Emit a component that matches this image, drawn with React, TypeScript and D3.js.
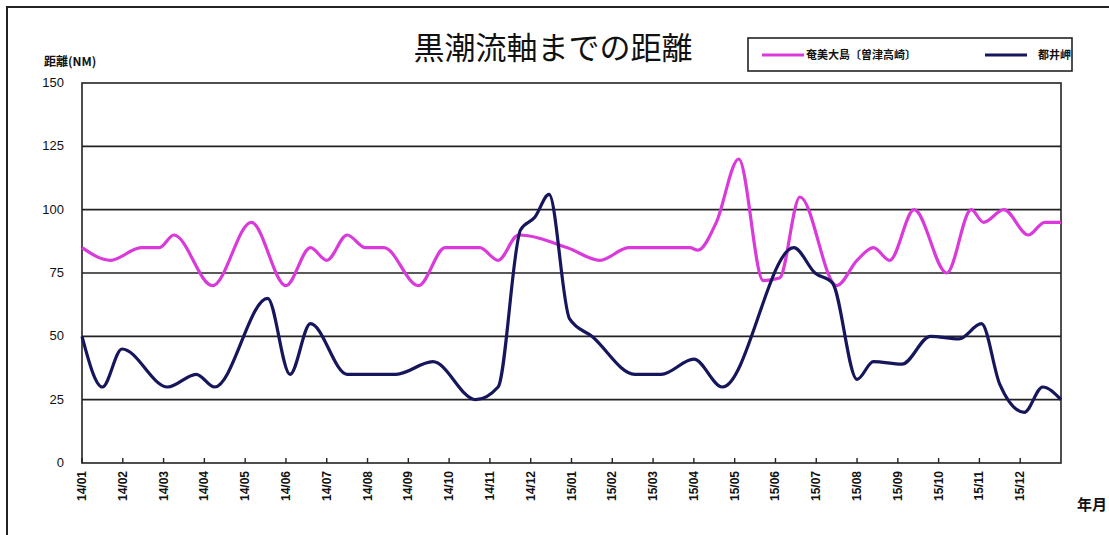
import React, { useEffect, useRef } from "react";
import * as d3 from "d3";

// month offsets (0 = start of 2014/01) and distances in NM
const amamiMonth = [0, 0.7, 1.45, 1.9, 2.25, 3.2, 4.15, 5.0, 5.6, 6.0, 6.5, 6.95, 7.4, 8.25, 8.9, 9.75, 10.2, 10.7, 11.9, 12.7, 13.4, 14.9, 15.1, 15.55, 16.1, 16.7, 17.1, 17.6, 18.5, 19.0, 19.4, 19.8, 20.4, 21.2, 21.8, 22.1, 22.6, 23.2, 23.6, 24];
const amamiNM = [85, 80, 85, 85, 90, 70, 95, 70, 85, 80, 90, 85, 85, 70, 85, 85, 80, 90, 85, 80, 85, 85, 84, 95, 120, 72, 73, 105, 70, 80, 85, 80, 100, 75, 100, 95, 100, 90, 95, 95];

const toiMonth = [0, 0.5, 0.98, 2.1, 2.8, 3.25, 4.55, 5.1, 5.6, 6.5, 7.7, 8.6, 9.65, 10.2, 10.75, 11.1, 11.45, 11.95, 12.5, 13.55, 14.2, 15.0, 15.7, 17.45, 17.97, 18.4, 19.0, 19.4, 20.1, 20.8, 21.5, 22.05, 22.5, 23.1, 23.55, 24];
const toiNM = [50, 30, 45, 30, 35, 30, 65, 35, 55, 35, 35, 40, 25, 30, 92, 97, 106, 57, 50, 35, 35, 41, 30, 85, 75, 71, 33, 40, 39, 50, 49, 55, 31, 20, 30, 25];

const monthLabels = ["14/01", "14/02", "14/03", "14/04", "14/05", "14/06", "14/07", "14/08", "14/09", "14/10", "14/11", "14/12", "15/01", "15/02", "15/03", "15/04", "15/05", "15/06", "15/07", "15/08", "15/09", "15/10", "15/11", "15/12"];
const yTicks = [0, 25, 50, 75, 100, 125, 150];

const seriesNames = ["奄美大島〔曽津高崎〕", "都井岬"];
const seriesColors = ["#d93ad9", "#16165c"];

const W = 1109;
const H = 535;

const App = () => {
  const ref = useRef<SVGSVGElement>(null);

  useEffect(() => {
    const svg = d3.select(ref.current);
    svg.selectAll("*").remove();

    const left = 82, right = 1061, top = 83, bottom = 463;
    const x = d3.scaleLinear().domain([0, 24]).range([left, right]);
    const y = d3.scaleLinear().domain([0, 150]).range([bottom, top]);

    svg.append("rect").attr("width", W).attr("height", H).attr("fill", "#fff");
    // outer frame
    svg.append("rect")
      .attr("x", 7).attr("y", 7).attr("width", 1200).attr("height", 600)
      .attr("fill", "none").attr("stroke", "#222").attr("stroke-width", 2);

    // title
    svg.append("text")
      .attr("x", 553).attr("y", 59)
      .attr("text-anchor", "middle")
      .attr("font-family", "'Noto Sans CJK JP'")
      .attr("font-size", 31)
      .attr("fill", "#111")
      .text("黒潮流軸までの距離");

    // y axis title
    svg.append("text")
      .attr("x", 44).attr("y", 66)
      .attr("font-family", "'Noto Sans CJK JP'")
      .attr("font-weight", 700)
      .attr("font-size", 12)
      .attr("fill", "#111")
      .text("距離(NM)");

    // gridlines
    svg.append("g")
      .selectAll("line")
      .data(yTicks.filter((d) => d > 0 && d < 150))
      .enter()
      .append("line")
      .attr("x1", left).attr("x2", right)
      .attr("y1", (d) => y(d)).attr("y2", (d) => y(d))
      .attr("stroke", "#222").attr("stroke-width", 1.6);

    // plot frame
    svg.append("rect")
      .attr("x", left).attr("y", top)
      .attr("width", right - left).attr("height", bottom - top)
      .attr("fill", "none").attr("stroke", "#222").attr("stroke-width", 1.6);

    // y tick labels
    svg.append("g")
      .attr("font-family", "'Liberation Sans', Arial")
      .attr("font-size", 13)
      .attr("fill", "#111")
      .attr("text-anchor", "end")
      .selectAll("text")
      .data(yTicks)
      .enter()
      .append("text")
      .attr("x", 64)
      .attr("y", (d) => y(d) + 4)
      .text((d) => d);

    // x ticks
    svg.append("g")
      .selectAll("line")
      .data(monthLabels)
      .enter()
      .append("line")
      .attr("x1", (d, i) => x(i)).attr("x2", (d, i) => x(i))
      .attr("y1", bottom - 5).attr("y2", bottom)
      .attr("stroke", "#222").attr("stroke-width", 1.4);

    svg.append("g")
      .attr("font-family", "'Liberation Sans', Arial")
      .attr("font-weight", 700)
      .attr("font-size", 12)
      .attr("fill", "#111")
      .attr("text-anchor", "end")
      .selectAll("text")
      .data(monthLabels)
      .enter()
      .append("text")
      .attr("transform", (d, i) => `translate(${x(i) + 4},471) rotate(-90)`)
      .text((d) => d);

    svg.append("text")
      .attr("x", 1077).attr("y", 510)
      .attr("font-family", "'Noto Sans CJK JP'")
      .attr("font-weight", 700)
      .attr("font-size", 15)
      .attr("fill", "#111")
      .text("年月");

    // lines
    const line = d3
      .line<[number, number]>()
      .x((d) => x(d[0]))
      .y((d) => y(d[1]))
      .curve(d3.curveMonotoneX);

    const series: [number, number][][] = [
      amamiMonth.map((m, i) => [m, amamiNM[i]]),
      toiMonth.map((m, i) => [m, toiNM[i]]),
    ];

    svg.append("g")
      .selectAll("path")
      .data(series)
      .enter()
      .append("path")
      .attr("d", (d) => line(d))
      .attr("fill", "none")
      .attr("stroke", (d, i) => seriesColors[i])
      .attr("stroke-width", 3.2)
      .attr("stroke-linejoin", "round");

    // legend
    const lg = svg.append("g");
    lg.append("rect")
      .attr("x", 748).attr("y", 38).attr("width", 324).attr("height", 33)
      .attr("fill", "#fff").attr("stroke", "#222").attr("stroke-width", 1.6);
    const legendX = [762, 985];
    const textX = [806, 1038];
    seriesNames.forEach((name, i) => {
      lg.append("line")
        .attr("x1", legendX[i]).attr("x2", legendX[i] + 42)
        .attr("y1", 55).attr("y2", 55)
        .attr("stroke", seriesColors[i]).attr("stroke-width", 3.2);
      lg.append("text")
        .attr("x", textX[i]).attr("y", 59)
        .attr("font-family", "'Noto Sans CJK JP'")
        .attr("font-weight", 700)
        .attr("font-size", 11)
        .attr("fill", "#111")
        .text(name);
    });
  }, []);

  return (
    <svg
      ref={ref}
      width={W}
      height={H}
      style={{ position: "absolute", left: 0, top: 0 }}
    />
  );
};

export default App;
